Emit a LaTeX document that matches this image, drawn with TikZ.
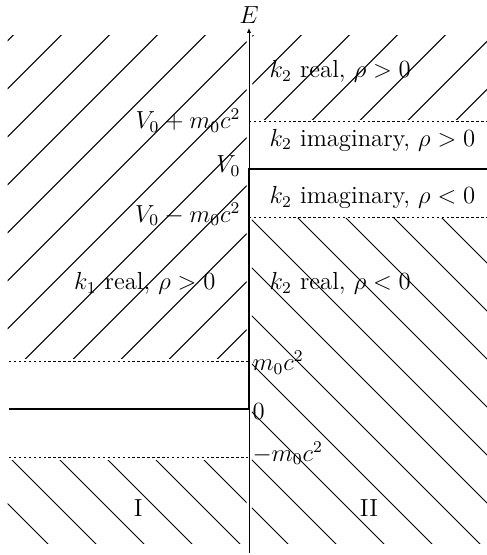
\documentclass[tikz,border=0pt,12pt]{standalone}
\usepackage{amsmath}
\usepackage{tikz}
\usetikzlibrary{arrows.meta}

\begin{document}
\begin{tikzpicture}[x=0.82cm, y=0.82cm,
		hatch/.style={line width=0.45pt},
		level/.style={line width=0.45pt, dash pattern=on 1.2pt off 1.2pt},
		wall/.style={line width=1pt}]
		\useasboundingbox (-5.1875,-3.0417) rectangle (4.9375,8.5208);
		
		% 阴影线：左上、右上 (/)
		\begin{scope}
			\clip (-5.03,1.06) rectangle (-0.05,7.78);
			\foreach \n in {-14,...,10} \draw[hatch] (\n-3.7,-4) -- (\n+9.3,9);
		\end{scope}
		\begin{scope}
			\clip (0.07,6.04) rectangle (5,7.78);
			\foreach \n in {-14,...,10} \draw[hatch] (\n-3.7,-4) -- (\n+9.3,9);
		\end{scope}
		
		% 阴影线：右下、左下 (\)
		\begin{scope}
			\clip (0.06,-2.81) rectangle (5,3.96);
			\foreach \n in {-14,...,10} \draw[hatch] (\n+4,-4) -- (\n-9,9);
		\end{scope}
		\begin{scope}
			\clip (-5.03,-2.81) rectangle (-0.05,-1.07);
			\foreach \n in {-14,...,10} \draw[hatch] (\n+4,-4) -- (\n-9,9);
		\end{scope}
		
		% 能级虚线
		\draw[level] (-5,1) -- (0,1);
		\draw[level] (-5,-1) -- (0,-1);
		\draw[level] (0,6) -- (5,6);
		\draw[level] (0,4) -- (5,4);
		
		% 势阶 V(x)
		\coordinate (O) at (0,0);
		\coordinate (L0) at (-5,0);
		\coordinate (V0) at (0,5);
		\coordinate (R5) at (5,5);
		\draw[wall] (L0) -- (O) -- (V0) -- (R5);
		
		% 能量轴
		\coordinate (Ebot) at (0,-3);
		\node[inner sep=2pt] (E) at (0,8.21) {$E$};
		\draw[line width=0.45pt, -{Latex[length=2.4pt,width=2pt]}] (Ebot) -- (E);
		
		% 刻度
		\node[left] (lVp) at (0,6) {$V_0+m_0c^2$};
		\node[left] (lV) at (0,5.06) {$V_0$};
		\node[left] (lVm) at (0,4.06) {$V_0-m_0c^2$};
		\node[right, inner sep=1.5pt] (lm) at (0,0.96) {$m_0c^2$};
		\node[right, inner sep=1.5pt] (lz) at (0,-0.06) {$0$};
		\node[right, inner sep=1.5pt] (lmm) at (0,-0.92) {$-m_0c^2$};
		
		% 区域说明
		\node[anchor=west] (rA) at (0.25,7.03) {$k_2$ real, $\rho>0$};
		\node[anchor=west] (rB) at (0.25,5.6) {$k_2$ imaginary, $\rho>0$};
		\node[anchor=west] (rC) at (0.25,4.4) {$k_2$ imaginary, $\rho<0$};
		\node[anchor=west] (rD) at (0.25,2.62) {$k_2$ real, $\rho<0$};
		\node (lA) at (-2.17,2.62) {$k_1$ real, $\rho>0$};
		\node (regI) at (-2.31,-2.06) {I};
		\node (regII) at (2.5,-2.06) {II};
	\end{tikzpicture}
\end{document}
